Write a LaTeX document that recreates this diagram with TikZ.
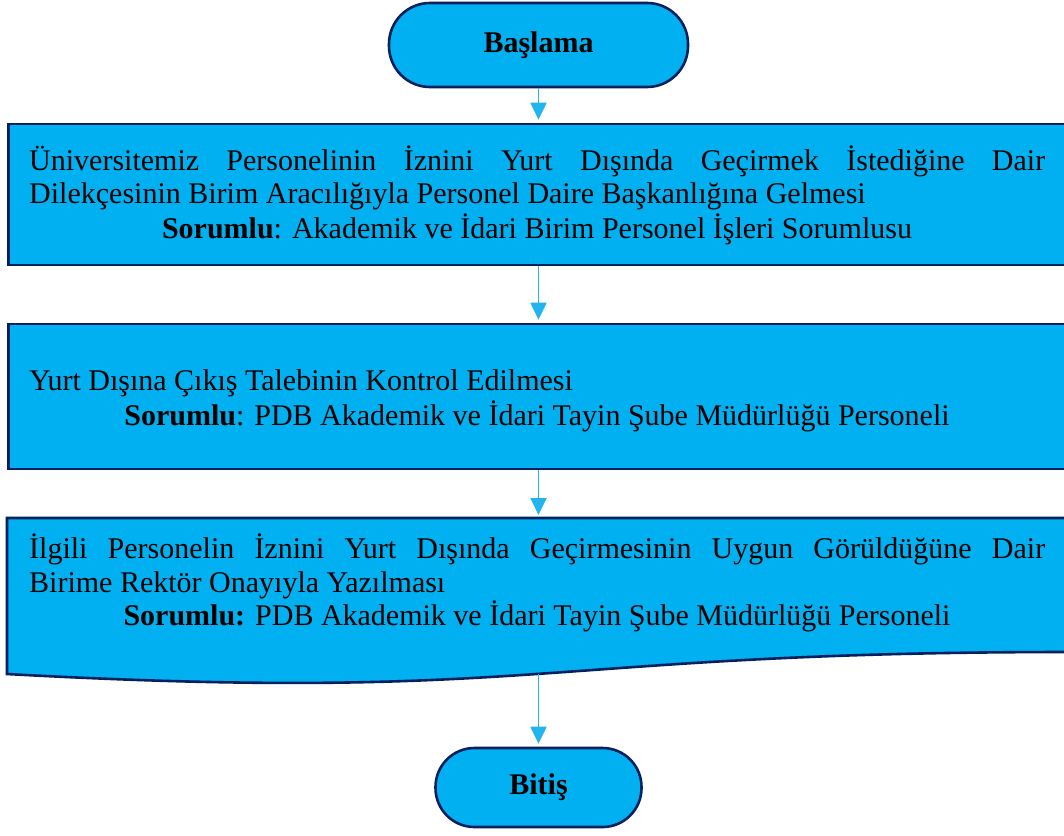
\documentclass[tikz,border=0pt]{standalone}
\usepackage{fontspec}
\setmainfont{Liberation Serif}
\usetikzlibrary{arrows.meta}
\definecolor{boxfill}{HTML}{00B0F0}
\definecolor{boxline}{HTML}{002060}
\definecolor{arrowc}{HTML}{22B4EE}
\begin{document}
\begin{tikzpicture}[x=1pt,y=-1pt,
  shapebox/.style={draw=boxline, fill=boxfill, line width=2.6pt, inner sep=0pt},
  txt/.style={inner sep=0pt, font=\fontsize{30}{34}\selectfont},
  termtxt/.style={font=\fontsize{30}{34}\selectfont\bfseries},
  conn/.style={draw=arrowc, line width=1.8pt, shorten >=3pt, -{Triangle[length=17pt,width=16pt]}}]
\useasboundingbox (0,0) rectangle (1064,835);
\clip (0,0) rectangle (1064,835);

% terminals
\node[shapebox, termtxt, rounded corners=41pt, minimum width=299pt, minimum height=84pt] (start) at (538.5,45) {Başlama};
\node[shapebox, termtxt, rounded corners=39pt, minimum width=206pt, minimum height=79pt] (end) at (538.5,787.5) {Bitiş};

% process boxes
\node[shapebox, minimum width=1060pt, minimum height=141pt] (b1) at (538.5,194.5) {};
\node[shapebox, minimum width=1060pt, minimum height=145pt] (b2) at (538.5,396.5) {};
% document box
\draw[shapebox] (7,518) -- (1070,518) -- (1070,652) .. controls (538,652) and (538,703) .. (7,674) -- cycle;
\coordinate (b3top) at (538.5,518);
\coordinate (b3bot) at (538.5,674);

% texts box 1
\node[txt, anchor=base west] (t11) at (29,170) {\makebox[1016pt][s]{Üniversitemiz Personelinin İznini Yurt Dışında Geçirmek İstediğine Dair}};
\node[txt, anchor=base west] (t12) at (29,203) {Dilekçesinin Birim Aracılığıyla Personel Daire Başkanlığına Gelmesi};
\node[txt, anchor=base] (t13) at (537,238) {\textbf{Sorumlu}: Akademik ve İdari Birim Personel İşleri Sorumlusu};
% texts box 2
\node[txt, anchor=base west] (t21) at (29,390) {Yurt Dışına Çıkış Talebinin Kontrol Edilmesi};
\node[txt, anchor=base] (t22) at (537,425) {\textbf{Sorumlu}: PDB Akademik ve İdari Tayin Şube Müdürlüğü Personeli};
% texts box 3
\node[txt, anchor=base west] (t31) at (29,558) {\makebox[1016pt][s]{İlgili Personelin İznini Yurt Dışında Geçirmesinin Uygun Görüldüğüne Dair}};
\node[txt, anchor=base west] (t32) at (29,592) {Birime Rektör Onayıyla Yazılması};
\node[txt, anchor=base] (t33) at (537,625) {\textbf{Sorumlu:} PDB Akademik ve İdari Tayin Şube Müdürlüğü Personeli};

% connectors
\draw[conn] (start.south) -- (b1.north);
\draw[conn] (b1.south) -- (b2.north);
\draw[conn] (b2.south) -- (b3top);
\draw[conn] (b3bot) -- (end.north);
\end{tikzpicture}
\end{document}
